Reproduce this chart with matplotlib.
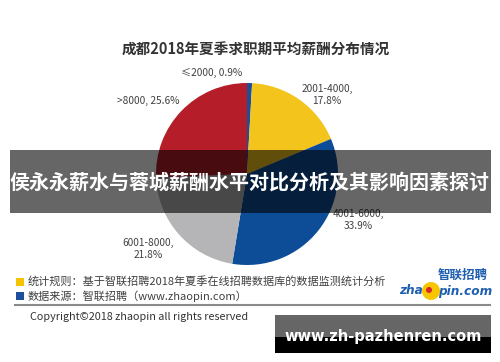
import matplotlib
matplotlib.use("Agg")
import matplotlib.pyplot as plt
from matplotlib.patches import Rectangle, Circle

plt.rcParams['font.family'] = ['Noto Sans CJK SC', 'DejaVu Sans']

# 数据
categories = ['≤2000', '2001-4000', '4001-6000', '6001-8000', '>8000']
shares = [0.9, 17.8, 33.9, 21.8, 25.6]
colors = ['#1F4E96', '#F2C41C', '#0D4C97', '#B5B5B7', '#B51D29']
label_breaks = [', ', ',\n', ',\n', ',\n', ', ']
# label positions in pie data units
label_pos = [(-0.385, 1.11), (0.88, 0.87), (1.22, -0.505), (-1.088, -0.824), (-1.088, 0.80)]

title = '成都2018年夏季求职期平均薪酬分布情况'
banner = '侯永永薪水与蓉城薪酬水平对比分析及其影响因素探讨'
note_rule = '统计规则：基于智联招聘2018年夏季在线招聘数据库的数据监测统计分析'
note_src = '数据来源：智联招聘（www.zhaopin.com）'
copyright_txt = 'Copyright©2018 zhaopin all rights reserved'
watermark = 'www.zh-pazhenren.com'

W, H = 500, 362
fig = plt.figure(figsize=(W / 100, H / 100), dpi=100)
fig.patch.set_facecolor('white')

# 饼图
cx, cy, r = 247, 174, 91
ax = fig.add_axes([(cx - r) / W, (H - cy - r) / H, 2 * r / W, 2 * r / H])
labels = [f'{c}{b}{s}%' for c, b, s in zip(categories, label_breaks, shares)]
wedges, texts = ax.pie(shares, colors=colors, startangle=90, counterclock=False,
                       labels=labels, wedgeprops=dict(linewidth=0),
                       textprops=dict(fontsize=7.3, color='#404040'))
for t, (x, y) in zip(texts, label_pos):
    t.set_position((x, y))
    t.set_ha('center')
    t.set_va('center')
    t.set_multialignment('center')
ax.set_xlim(-1, 1)
ax.set_ylim(-1, 1)

# overlay in pixel coordinates
ov = fig.add_axes([0, 0, 1, 1], facecolor='none')
ov.set_xlim(0, W)
ov.set_ylim(H, 0)
ov.axis('off')

ov.text(256, 50, title, ha='center', va='center', fontsize=10.5,
        fontweight='bold', color='#333333')

ov.add_patch(Rectangle((10, 150), 481, 63, color='black', alpha=0.6, lw=0))
ov.text(249, 182, banner, ha='center', va='center', fontsize=14.4,
        fontweight='bold', color='white')

# 注释
ov.add_patch(Rectangle((16, 278), 8, 8, color='#F5C400', lw=0))
ov.add_patch(Rectangle((16, 292), 8, 8, color='#1F4E9C', lw=0))
ov.text(28, 281, note_rule, ha='left', va='center', fontsize=8, color='#404040')
ov.text(28, 296, note_src, ha='left', va='center', fontsize=8, color='#404040')
ov.plot([15, 490], [305, 305], color='#8A8A8A', lw=1.5)
ov.text(30, 317, copyright_txt, ha='left', va='center', fontsize=7.8, color='#333333')

# logo
ov.add_patch(Circle((431, 291), 9, color='#F7C600', lw=0))
ov.add_patch(Circle((429, 290), 3, color='#D8262B', lw=0))
ov.text(423, 291, 'zha', ha='right', va='center', fontsize=8.7, fontweight='bold',
        style='italic', color='#1F5FB0', family='DejaVu Sans')
ov.text(438, 291, 'pin.com', ha='left', va='center', fontsize=8.7, fontweight='bold',
        style='italic', color='#1F5FB0', family='DejaVu Sans')
ov.text(463, 275, '智联招聘', ha='center', va='center', fontsize=9, fontweight='bold',
        style='italic', color='#1F5FB0')

# watermark
ov.add_patch(Rectangle((275, 315), 216, 22, color='#666666', lw=0))
ov.add_patch(Rectangle((275, 337), 216, 16, color='black', lw=0))
ov.text(383, 336, watermark, ha='center', va='center', fontsize=10.5,
        fontweight='bold', color='white', family='DejaVu Sans')

fig.savefig('out.png', dpi=100)
